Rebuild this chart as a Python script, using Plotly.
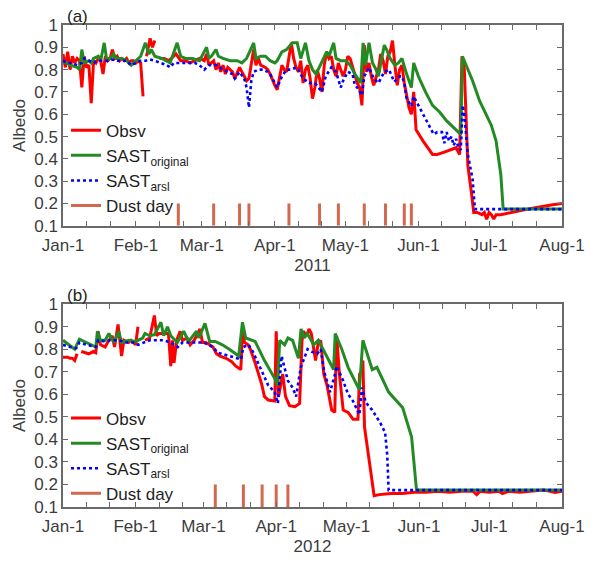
import pandas as pd
import plotly.graph_objects as go

# ---------------- data (day offset from Jan-1, albedo) ----------------
obs_2011 = [(0,0.87),(1,0.81),(2,0.88),(3,0.80),(4,0.86),(5,0.83),(6,0.85),(7,0.84),(8,0.72),(9,0.86),
            (10,0.81),(11,0.82),(12,0.65),(13,0.84),(14,0.83),(15,0.85),(16,0.84),(17,0.78),(18,0.86),(19,0.84),
            (20,0.85),(21,0.89),(22,0.85),(23,0.86),(24,0.84),(25,0.85),(26,0.84),(27,0.85),(28,0.83),(29,0.84),
            (30,0.84),(31,0.83),(32,0.84),(33,0.83),(34,0.68),(None,None),(35.5,0.86),(37,0.94),(38,0.90),(39,0.93),
            (None,None),(41,0.85),(43,0.85),(45,0.84),(47,0.86),(48,0.87),(50,0.84),(52,0.84),(54,0.83),(56,0.84),
            (58,0.85),(60,0.84),(61,0.87),(62,0.82),(64,0.84),(65,0.80),(66,0.83),(67,0.79),(68,0.82),(69,0.78),
            (70,0.81),(72,0.79),(73,0.76),(75,0.81),(76,0.79),(78,0.75),(79,0.76),(81,0.89),(82,0.82),(83,0.85),
            (84,0.82),(86,0.81),(87,0.80),(88,0.78),(90,0.73),(91,0.71),(93,0.82),(94,0.80),(95,0.79),(97,0.92),
            (98,0.85),(99,0.81),(100,0.79),(101,0.84),(102,0.74),(103,0.80),(104,0.82),(105,0.76),(106,0.67),(107,0.72),
            (108,0.80),(109,0.76),(110,0.70),(111,0.82),(112,0.88),(113,0.85),(114,0.86),(115,0.80),(116,0.77),(117,0.83),
            (118,0.80),(119,0.77),(120,0.80),(121,0.86),(122,0.85),(123,0.81),(124,0.77),(125,0.74),(126,0.72),(127,0.64),
            (128,0.91),(129,0.79),(130,0.83),(131,0.77),(132,0.73),(133,0.76),(134,0.80),(135,0.87),(136,0.84),(137,0.78),
            (138,0.86),(139,0.88),(140,0.93),(141,0.82),(142,0.73),(143,0.80),(144,0.82),(145,0.74),(146,0.68),(147,0.63),
            (148,0.60),(149,0.70),(150,0.53),(153,0.48),(157,0.42),(159,0.42),(162,0.43),(165,0.44),(167,0.45),(168.5,0.42),
            (169.5,0.86),(170.5,0.80),(172,0.37),(173.5,0.25),(174.5,0.16),(176,0.16),(178,0.15),(179,0.16),(180,0.13),(181,0.16),
            (182,0.15),(183,0.13),(184,0.15),(186,0.15),(190,0.16),(195,0.17),(200,0.18),(205,0.19),(208,0.195),(212,0.20)]

orig_2011 = [(0,0.84),(3,0.82),(6,0.81),(7,0.80),(8,0.89),(9,0.83),(11,0.84),(12,0.83),(13,0.85),(15,0.86),
             (16,0.84),(17.5,0.92),(18.5,0.85),(20,0.85),(21.5,0.87),(22.5,0.85),(25,0.85),(27,0.84),(29,0.82),(31,0.84),
             (33,0.86),(35,0.92),(36.5,0.87),(37.5,0.89),(39,0.86),(42,0.85),(45.5,0.83),(48.5,0.92),(50,0.86),(52,0.85),
             (55,0.85),(58,0.84),(61,0.90),(62,0.85),(63,0.86),(65,0.89),(66,0.86),(68,0.85),(71,0.84),(74,0.84),
             (76,0.83),(78,0.85),(81,0.92),(82,0.85),(84,0.86),(86,0.86),(88,0.84),(90,0.83),(91,0.84),(93,0.88),
             (95,0.89),(97.5,0.92),(99.5,0.92),(101,0.85),(103,0.92),(104.5,0.84),(106,0.80),(107.5,0.78),(110,0.84),(112,0.88),
             (113,0.86),(115,0.92),(116,0.85),(118,0.84),(120,0.84),(122,0.82),(124,0.78),(126.5,0.74),(127.5,0.92),(128.5,0.82),
             (130,0.92),(131.5,0.83),(133,0.80),(134,0.77),(136.5,0.91),(137.5,0.89),(139,0.85),(141,0.82),(142.5,0.83),(144,0.85),
             (146,0.78),(148,0.72),(149,0.83),(151,0.77),(154,0.70),(157,0.64),(160,0.61),(163,0.57),(166,0.54),(169,0.51),
             (169.7,0.86),(172,0.80),(174,0.75),(177,0.66),(180,0.59),(182,0.55),(184,0.48),(186,0.33),(187,0.175),(212,0.175)]

arsl_2011 = [(0,0.84),(2,0.83),(4,0.83),(6,0.82),(8,0.83),(9,0.85),(11,0.84),(13,0.83),(15,0.84),(17,0.84),
             (19,0.84),(21,0.845),(23,0.84),(25,0.84),(27,0.84),(29,0.82),(31,0.83),(33,0.84),(35,0.84),(37,0.845),
             (39,0.84),(42,0.83),(44,0.82),(45.6,0.81),(47,0.83),(50,0.83),(53,0.83),(56,0.83),(58,0.82),(60,0.80),
             (62,0.82),(65,0.82),(68,0.80),(70,0.79),(72,0.78),(73,0.76),(75,0.79),(77,0.76),(78,0.72),(79,0.63),
             (80,0.75),(81,0.79),(83,0.80),(85,0.80),(87,0.79),(88,0.78),(90,0.74),(91,0.72),(93,0.77),(95,0.80),
             (97,0.80),(99,0.81),(100,0.80),(102,0.76),(104.6,0.74),(107,0.74),(110,0.70),(111.6,0.77),(114,0.81),(116,0.79),
             (118,0.72),(119,0.75),(121,0.79),(123,0.78),(124,0.73),(125,0.72),(127,0.685),(128,0.77),(130,0.81),(132,0.76),
             (134,0.74),(136.5,0.79),(138.5,0.80),(140.7,0.745),(143,0.77),(144,0.77),(145,0.74),(146,0.67),(148,0.636),(149,0.68),
             (151,0.64),(153.5,0.59),(155.6,0.55),(157.5,0.51),(159,0.52),(161,0.52),(162,0.47),(163,0.52),(164,0.48),(165,0.50),
             (166,0.46),(167,0.49),(168,0.45),(169,0.44),(169.8,0.64),(170.5,0.60),(172,0.42),(174,0.31),(175,0.175),(212,0.175)]

obs_2012 = [(0,0.765),(2,0.765),(3,0.76),(4,0.76),(5,0.75),(6,0.78),(None,None),(7.8,0.79),(9,0.785),(11,0.78),
            (13,0.79),(14,0.785),(15,0.88),(16,0.82),(18,0.81),(19,0.83),(21,0.86),(22,0.81),(23.5,0.91),(25,0.77),
            (26,0.84),(28,0.83),(29,0.84),(31,0.82),(32,0.90),(None,None),(35,0.84),(37,0.85),(39,0.95),(40,0.86),
            (41,0.87),(43,0.87),(45,0.87),(46,0.725),(46.7,0.84),(47.4,0.74),(48.5,0.84),(50,0.88),(51,0.84),(53,0.85),
            (54.3,0.82),(56,0.84),(58.5,0.89),(59.5,0.83),(61,0.83),(62.6,0.82),(64,0.81),(65.5,0.78),(67,0.77),(69.6,0.76),
            (72,0.745),(73.8,0.725),(75.9,0.71),(76.6,0.88),(77.5,0.83),(79,0.82),(80,0.80),(82,0.74),(84.8,0.645),(86,0.59),
            (87.6,0.575),(90.4,0.57),(91,0.88),(92,0.59),(93.8,0.69),(95,0.59),(96.7,0.55),(99,0.545),(101,0.56),(102,0.835),
            (102.5,0.88),(104,0.86),(105,0.89),(106,0.87),(107.8,0.75),(108.8,0.82),(110,0.84),(111.3,0.69),(112.7,0.64),(114.7,0.53),
            (116,0.52),(116.8,0.86),(118,0.69),(119.6,0.53),(121.7,0.52),(123.8,0.49),(125.9,0.49),(126.6,0.69),(127.3,0.70),(128,0.75),
            (128.7,0.455),(132.8,0.15),(135,0.155),(140,0.16),(145,0.16),(150,0.165),(155,0.165),(160,0.17),(165,0.165),(170,0.17),
            (175,0.17),(176.6,0.155),(178,0.17),(182,0.165),(186,0.17),(187.6,0.16),(190,0.17),(195,0.165),(200,0.17),(205,0.175),
            (208,0.17),(210,0.165),(213,0.17)]

orig_2012 = [(0,0.84),(5,0.80),(7,0.845),(10,0.83),(14,0.81),(14.7,0.88),(16,0.84),(18,0.84),(19.6,0.87),(21.7,0.83),
             (23.8,0.88),(25,0.83),(28,0.84),(31,0.835),(34,0.85),(35,0.87),(37,0.86),(39,0.865),(41.8,0.92),(43,0.86),
             (44.6,0.90),(46,0.86),(48.8,0.83),(51.5,0.88),(53.6,0.835),(57,0.88),(58,0.85),(60.6,0.915),(62.6,0.835),(65,0.835),
             (68,0.82),(71,0.80),(75,0.77),(76.6,0.92),(78,0.85),(82,0.835),(86,0.75),(90.4,0.67),(91.6,0.64),(92.5,0.84),
             (94.6,0.82),(96,0.85),(98,0.84),(100.5,0.76),(101.6,0.89),(103,0.85),(104.3,0.87),(107,0.82),(109,0.84),(112,0.78),
             (115.5,0.71),(116.2,0.87),(119,0.80),(121.7,0.72),(126.5,0.62),(128,0.84),(132,0.71),(134,0.72),(139,0.61),(145,0.54),
             (148.8,0.41),(150.9,0.175),(213,0.175)]

arsl_2012 = [(0,0.82),(3,0.81),(5.7,0.805),(7,0.83),(10,0.82),(14,0.81),(15,0.84),(18,0.835),(20,0.84),(23.8,0.84),
             (27,0.83),(30,0.83),(32,0.82),(35,0.83),(37,0.84),(40,0.84),(43,0.84),(46,0.83),(49,0.81),(51,0.83),
             (54,0.83),(57,0.83),(60,0.83),(64,0.81),(66,0.785),(71,0.77),(76,0.755),(77,0.81),(79.2,0.82),(81,0.79),
             (83.4,0.74),(85,0.70),(87.6,0.64),(90.4,0.61),(91.7,0.56),(93.3,0.77),(96,0.66),(98,0.63),(99.5,0.59),(101.5,0.72),
             (104.4,0.80),(106,0.79),(108.5,0.78),(110,0.80),(111.5,0.70),(114,0.61),(116,0.685),(116.8,0.725),(119.6,0.66),(121.7,0.60),
             (123.8,0.57),(126.5,0.51),(127.6,0.63),(129.2,0.565),(132,0.53),(135.6,0.47),(137.5,0.43),(138.4,0.33),(139,0.175),(213,0.175)]

dust_2011 = ["2011-02-19","2011-03-06","2011-03-17","2011-03-21","2011-04-07","2011-04-20",
             "2011-04-28","2011-05-09","2011-05-18","2011-05-26","2011-05-29"]
dust_2012 = ["2012-03-06","2012-03-18","2012-03-26","2012-04-01","2012-04-06"]
dust_low, dust_high = 0.1, 0.2

month_labels = ["Jan-1","Feb-1","Mar-1","Apr-1","May-1","Jun-1","Jul-1","Aug-1"]
y_ticks = [0.1,0.2,0.3,0.4,0.5,0.6,0.7,0.8,0.9,1.0]
y_ticktext = ["0.1","0.2","0.3","0.4","0.5","0.6","0.7","0.8","0.9","1"]

# ---------------- helpers ----------------
def to_xy(pairs, year):
    base = pd.Timestamp(f"{year}-01-01")
    xs, ys = [], []
    for d, v in pairs:
        if d is None:
            xs.append(None); ys.append(None)
        else:
            xs.append(base + pd.Timedelta(days=d)); ys.append(v)
    return xs, ys

def dust_xy(dates):
    xs, ys = [], []
    for d in dates:
        xs += [d, d, None]; ys += [dust_low, dust_high, None]
    return xs, ys

def month_ticks(year):
    return [f"{year}-{m:02d}-01" for m in range(1, 9)]

def minor_ticks(year):
    return [f"{year}-{m:02d}-{d:02d}" for m in range(1, 8) for d in (11, 21)]

RED, GREEN, BLUE, DUST = "#ff0000", "#238b23", "#0000ff", "#d2694e"
FONT = "Liberation Sans, Arial, sans-serif"
AX = "#6a6a6a"
TXT = "#3c3c3c"

fig = go.Figure()
for year, xa, ya, leg, obs, orig, arsl, dust in [
        (2011, "x", "y", "legend", obs_2011, orig_2011, arsl_2011, dust_2011),
        (2012, "x2", "y2", "legend2", obs_2012, orig_2012, arsl_2012, dust_2012)]:
    x, y = to_xy(obs, year)
    fig.add_trace(go.Scatter(x=x, y=y, mode="lines", name="Obsv", xaxis=xa, yaxis=ya, legend=leg,
                             line=dict(color=RED, width=3), connectgaps=False))
    x, y = to_xy(orig, year)
    fig.add_trace(go.Scatter(x=x, y=y, mode="lines", name="SAST<sub>original</sub>", xaxis=xa, yaxis=ya,
                             legend=leg, line=dict(color=GREEN, width=3)))
    x, y = to_xy(arsl, year)
    fig.add_trace(go.Scatter(x=x, y=y, mode="lines", name="SAST<sub>arsl</sub>", xaxis=xa, yaxis=ya,
                             legend=leg, line=dict(color=BLUE, width=2.6, dash="dot")))
    x, y = dust_xy(dust)
    fig.add_trace(go.Scatter(x=x, y=y, mode="lines", name="Dust day", xaxis=xa, yaxis=ya,
                             legend=leg, line=dict(color=DUST, width=3)))

TICKSIZE = 17

def xaxis_cfg(year, anchor):
    return dict(type="date", range=[f"{year}-01-01", f"{year}-08-01"],
                tickvals=month_ticks(year), ticktext=month_labels, ticklabelstandoff=3,
                ticks="inside", ticklen=5, tickcolor=AX, showline=True, linecolor=AX, linewidth=1.5,
                minor=dict(tickmode="array", tickvals=minor_ticks(year), ticks="inside", ticklen=5,
                           tickcolor=AX, showgrid=False),
                mirror="allticks", showgrid=False, zeroline=False, anchor=anchor,
                tickfont=dict(family=FONT, size=TICKSIZE, color=TXT),
                title=dict(text=str(year), font=dict(family=FONT, size=TICKSIZE, color=TXT), standoff=5))

def yaxis_cfg(domain, anchor):
    return dict(range=[0.1, 1.0], domain=domain, tickvals=y_ticks, ticktext=y_ticktext,
                ticks="inside", ticklen=5, tickcolor=AX, showline=True, linecolor=AX, linewidth=1.5,
                mirror="ticks", showgrid=False, zeroline=False, anchor=anchor,
                tickfont=dict(family=FONT, size=TICKSIZE, color=TXT),
                title=dict(text="Albedo", font=dict(family=FONT, size=TICKSIZE, color=TXT), standoff=4))

legend_common = dict(bgcolor="rgba(0,0,0,0)", borderwidth=0, xanchor="left", yanchor="top",
                     font=dict(family=FONT, size=17, color="#1e1e1e"), tracegroupgap=0,
                     itemwidth=30)

fig.update_layout(
    width=597, height=565, autosize=False,
    margin=dict(l=63, r=23, t=25, b=48),
    paper_bgcolor="white", plot_bgcolor="white",
    xaxis=xaxis_cfg(2011, "y"),
    yaxis=yaxis_cfg([0.5833, 1.0], "x"),
    xaxis2=xaxis_cfg(2012, "y2"),
    yaxis2=yaxis_cfg([0.0, 0.4207], "x2"),
    legend=dict(x=0.006, y=0.818, **legend_common),
    legend2=dict(x=0.006, y=0.221, **legend_common),
    showlegend=True,
    annotations=[
        dict(text="(a)", x=0.004, y=1.0, xref="paper", yref="paper", xanchor="left", yanchor="bottom",
             yshift=-3, showarrow=False, font=dict(family=FONT, size=17, color="#222222")),
        dict(text="(b)", x=0.004, y=0.4207, xref="paper", yref="paper", xanchor="left", yanchor="bottom",
             yshift=-3, showarrow=False, font=dict(family=FONT, size=17, color="#222222")),
    ],
)

fig.write_html("out.html")
